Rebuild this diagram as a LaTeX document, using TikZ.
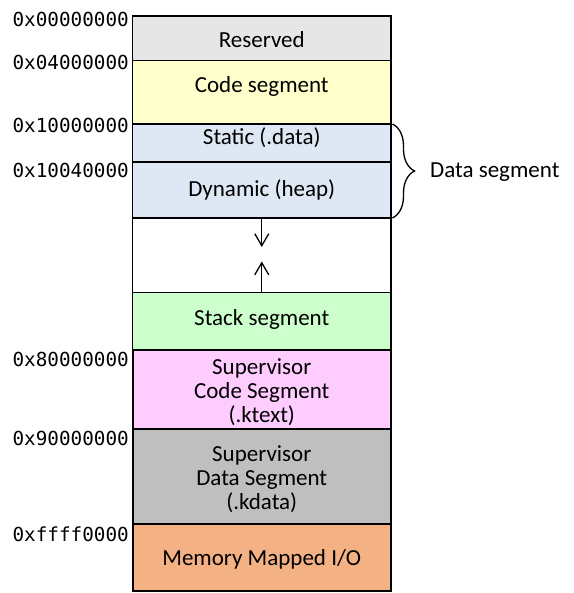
\documentclass[tikz,border=0pt]{standalone}
\usepackage{fontspec}
\setmainfont{Carlito}
\newfontfamily\addrfont{DejaVu Sans Mono}
\usetikzlibrary{arrows.meta,decorations.pathreplacing}
\definecolor{cres}{HTML}{E6E6E6}
\definecolor{ccode}{HTML}{FFFFCC}
\definecolor{cdata}{HTML}{DEE8F4}
\definecolor{cstack}{HTML}{CCFFCC}
\definecolor{ckcode}{HTML}{FFCCFF}
\definecolor{ckdata}{HTML}{BFBFBF}
\definecolor{cmmio}{HTML}{F4B183}
\begin{document}
\begin{tikzpicture}[x=1pt,y=-1pt,
  seg/.style={draw=black, line width=1.3pt, minimum width=258.5pt, inner sep=0pt, outer sep=0pt},
  kseg/.style={seg, line width=2pt},
  txt/.style={font=\fontsize{23}{24.3}\selectfont, inner sep=0pt},
  lbl/.style={txt, align=center},
  blbl/.style={txt, anchor=base},
  addr/.style={font=\addrfont\fontsize{19.3}{22}\selectfont, anchor=east, inner sep=0pt},
  arr/.style={line width=1.3pt, -{Straight Barb[length=12pt,width=14pt]}}]
\useasboundingbox (0,0) rectangle (573,593);
% segments
\node[seg, fill=cres,   minimum height=44.5pt] (res)  at (261.75,38.25) {};
\node[seg, fill=ccode,  minimum height=63.5pt] (code) at (261.75,92.25) {};
\node[seg, fill=cdata,  minimum height=38pt]   (stat) at (261.75,143) {};
\node[seg, fill=cdata,  minimum height=56pt]   (dyn)  at (261.75,190) {};
\node[seg, fill=white,  minimum height=74.5pt] (free) at (261.75,255.25) {};
\node[seg, fill=cstack, minimum height=57.5pt] (stack) at (261.75,321.25) {};
\node[kseg, fill=ckcode, minimum height=79pt]  (kcode) at (261.75,389.5) {};
\node[kseg, fill=ckdata, minimum height=95pt]  (kdata) at (261.75,476.5) {};
\node[kseg, fill=cmmio,  minimum height=66.5pt] (mmio) at (261.75,557.25) {};
% labels
\node[blbl] (tres)  at (261.75,47.3) {Reserved};
\node[blbl] (tcode) at (261.75,92.7) {Code segment};
\node[blbl] (tstat) at (261.75,145) {Static (.data)};
\node[blbl] (tdyn)  at (261.75,196.7) {Dynamic (heap)};
\node[blbl] (tstack) at (261.75,325) {Stack segment};
\node[lbl] (tkcode) at (261.75,392) {Supervisor\\Code Segment\\(.ktext)};
\node[lbl] (tkdata) at (261.75,479) {Supervisor\\Data Segment\\(.kdata)};
\node[blbl] (tmmio) at (261.75,565) {Memory Mapped I/O};
% addresses
\node[addr] (a0) at (129,19.5) {0x00000000};
\node[addr] (a1) at (129,62.5) {0x04000000};
\node[addr] (a2) at (129,125) {0x10000000};
\node[addr] (a3) at (129,170) {0x10040000};
\node[addr] (a4) at (129,359) {0x80000000};
\node[addr] (a5) at (129,438) {0x90000000};
\node[addr] (a6) at (129,534) {0xffff0000};
% arrows
\coordinate (dtip) at (261.75,247);
\coordinate (utip) at (261.75,261.5);
\draw[arr] (dyn.south) -- (dtip);
\draw[arr] (stack.north) -- (utip);
% brace
\draw[line width=1.3pt, decorate, decoration={brace, amplitude=22pt}]
  ([xshift=1.5pt]stat.north east) -- ([xshift=1.5pt]dyn.south east);
\node[blbl, anchor=west] (dseg) at (430,172) {Data segment};
\end{tikzpicture}
\end{document}
